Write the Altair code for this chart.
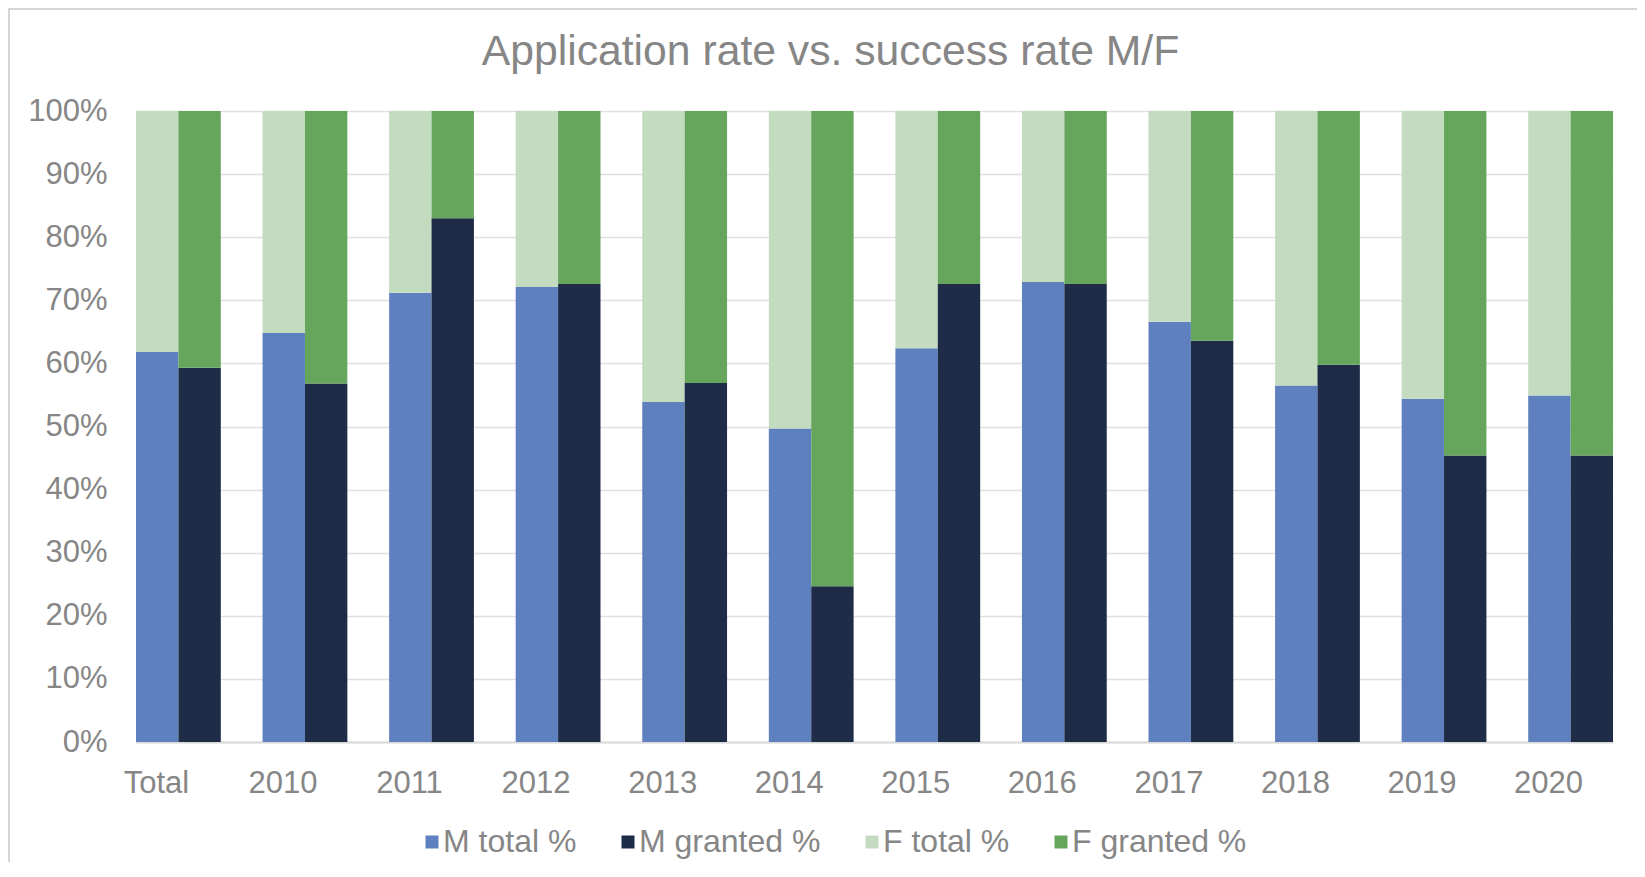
import altair as alt
import pandas as pd

categories = ["Total", "2010", "2011", "2012", "2013", "2014", "2015",
              "2016", "2017", "2018", "2019", "2020"]
m_total = [61.8, 64.8, 71.2, 72.1, 53.9, 49.7, 62.4, 72.9, 66.6, 56.5, 54.4, 54.9]
m_granted = [59.3, 56.8, 83.0, 72.6, 56.9, 24.7, 72.6, 72.6, 63.6, 59.8, 45.4, 45.4]
f_total = [38.2, 35.2, 28.8, 27.9, 46.1, 50.3, 37.6, 27.1, 33.4, 43.5, 45.6, 45.1]
f_granted = [40.7, 43.2, 17.0, 27.4, 43.1, 75.3, 27.4, 27.4, 36.4, 40.2, 54.6, 54.6]

series_names = ["M total %", "M granted %", "F total %", "F granted %"]
series_colors = ["#5f80bf", "#1e2c47", "#c3dcc0", "#65a65c"]
y_ticks = [0, 10, 20, 30, 40, 50, 60, 70, 80, 90, 100]

rows = []
for i, c in enumerate(categories):
    rows.append(dict(cat=c, series="M total %", bar="total", layer=0, value=m_total[i]))
    rows.append(dict(cat=c, series="F total %", bar="total", layer=1, value=f_total[i]))
    rows.append(dict(cat=c, series="M granted %", bar="granted", layer=0, value=m_granted[i]))
    rows.append(dict(cat=c, series="F granted %", bar="granted", layer=1, value=f_granted[i]))
df = pd.DataFrame(rows)

W, H = 1477, 631
text_color = "#868686"
font = "Liberation Sans"

bars = alt.Chart(df).mark_bar().encode(
    x=alt.X(
        "cat:N", sort=categories,
        scale=alt.Scale(paddingInner=0.33, paddingOuter=0),
        axis=alt.Axis(title=None, labelAngle=0, ticks=False, tickSize=0,
                      labelPadding=26, labelFontSize=31, labelFont=font,
                      labelColor=text_color, domainColor="#d9d9d9",
                      domainWidth=2, grid=False, labelOffset=-22),
    ),
    xOffset=alt.XOffset(
        "bar:N",
        scale=alt.Scale(domain=["total", "granted"], paddingInner=0, paddingOuter=0),
    ),
    y=alt.Y(
        "value:Q", stack="zero",
        scale=alt.Scale(domain=[0, 100], nice=False),
        axis=alt.Axis(title=None, values=y_ticks, labelExpr="datum.value + '%'",
                      ticks=False, tickSize=0, domain=False, grid=True,
                      gridColor="#e0e0e0", gridWidth=1.5, labelPadding=29,
                      labelFontSize=31, labelFont=font, labelColor=text_color),
    ),
    color=alt.Color(
        "series:N",
        scale=alt.Scale(domain=series_names, range=series_colors),
        legend=alt.Legend(
            title=None, orient="none", legendX=280, legendY=715,
            direction="horizontal", columns=4, symbolType="square",
            symbolSize=169, symbolStrokeWidth=0, labelFontSize=32,
            labelFont=font, labelColor=text_color, labelOffset={"expr": "-5"},
            columnPadding=35, padding=0, labelLimit=400,
        ),
    ),
    order=alt.Order("layer:Q", sort="ascending"),
)

frame = alt.Chart(pd.DataFrame({"a": [0]})).mark_rect(
    filled=False, stroke="#c8c8c8", strokeWidth=1.5
).encode(
    x=alt.value(-127), x2=alt.value(W + 200),
    y=alt.value(-102), y2=alt.value(H + 400),
)

chart = alt.layer(frame, bars).properties(
    width=W, height=H,
    title=alt.TitleParams(
        "Application rate vs. success rate M/F", fontSize=42.7, font=font,
        color=text_color, fontWeight="normal", anchor="middle", dx=-44,
        baseline="alphabetic", offset=0, dy=99,
    ),
    autosize=alt.AutoSizeParams(type="none"),
    padding={"left": 128, "top": 103, "right": 24, "bottom": 120},
).configure_view(stroke=None)

chart.save("out.html", embed_options={"renderer": "svg", "actions": False})
